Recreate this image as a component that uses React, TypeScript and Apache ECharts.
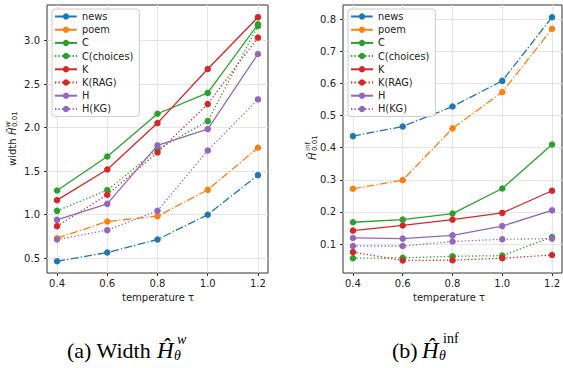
import React, { useEffect, useRef } from "react";
import * as echarts from "echarts";

// temperature values on the x axis
const temperatures = [0.4, 0.6, 0.8, 1.0, 1.2];

// interval width \hat H^w_{0.01}
const widthNews = [0.465, 0.565, 0.715, 1.0, 1.455];
const widthPoem = [0.73, 0.922, 0.983, 1.286, 1.769];
const widthC = [1.278, 1.669, 2.16, 2.4, 3.188];
const widthCChoices = [1.044, 1.282, 1.75, 2.076, 3.17];
const widthK = [1.167, 1.52, 2.053, 2.674, 3.27];
const widthKRag = [0.868, 1.229, 1.715, 2.271, 3.035];
const widthH = [0.941, 1.125, 1.796, 1.984, 2.847];
const widthHKg = [0.715, 0.822, 1.044, 1.738, 2.325];

// \hat H^inf_{0.01}
const infNews = [0.436, 0.466, 0.528, 0.608, 0.806];
const infPoem = [0.272, 0.299, 0.46, 0.573, 0.77];
const infC = [0.168, 0.176, 0.195, 0.273, 0.41];
const infCChoices = [0.056, 0.057, 0.062, 0.064, 0.122];
const infK = [0.142, 0.158, 0.176, 0.197, 0.266];
const infKRag = [0.075, 0.049, 0.05, 0.056, 0.066];
const infH = [0.119, 0.117, 0.127, 0.156, 0.205];
const infHKg = [0.094, 0.094, 0.108, 0.115, 0.117];

const seriesNames = ["news", "poem", "C", "C(choices)", "K", "K(RAG)", "H", "H(KG)"];
const xTicks = [0.4, 0.6, 0.8, 1.0, 1.2];
const widthTicks = [0.5, 1.0, 1.5, 2.0, 2.5, 3.0];
const infTicks = [0.1, 0.2, 0.3, 0.4, 0.5, 0.6, 0.7, 0.8];

const BLUE = "#1f77b4";
const ORANGE = "#ff7f0e";
const GREEN = "#2ca02c";
const RED = "#d62728";
const PURPLE = "#9467bd";

const DASHDOT = [8, 2.2, 1.3, 2.2];
const DOTTED = [1.3, 2.2];

const styles: { color: string; dash: number[] | "solid" }[] = [
  { color: BLUE, dash: DASHDOT },
  { color: ORANGE, dash: DASHDOT },
  { color: GREEN, dash: "solid" },
  { color: GREEN, dash: DOTTED },
  { color: RED, dash: "solid" },
  { color: RED, dash: DOTTED },
  { color: PURPLE, dash: "solid" },
  { color: PURPLE, dash: DOTTED },
];

const widthData = [widthNews, widthPoem, widthC, widthCChoices, widthK, widthKRag, widthH, widthHKg];
const infData = [infNews, infPoem, infC, infCChoices, infK, infKRag, infH, infHKg];

const SANS = "DejaVu Sans";
const SERIF = "Liberation Serif";
const INK = "#222";

function makeSeries(values: number[][], gridIdx: number) {
  return values.map((vals, i) => ({
    name: seriesNames[i],
    type: "line",
    xAxisIndex: gridIdx,
    yAxisIndex: gridIdx,
    data: temperatures.map((t, j) => [t, vals[j]]),
    symbol: "circle",
    symbolSize: 6.5,
    showSymbol: true,
    itemStyle: { color: styles[i].color },
    lineStyle: { color: styles[i].color, width: 1.3, type: styles[i].dash, cap: "butt" },
    emphasis: { disabled: true },
    z: 2 + i,
  }));
}

function xAxisCfg(gridIndex: number) {
  return {
    type: "value",
    gridIndex,
    min: 0.36,
    max: 1.24,
    axisLine: { show: false },
    axisTick: { show: true, length: 3, lineStyle: { color: "#333", width: 1 }, customValues: xTicks },
    axisLabel: {
      customValues: xTicks,
      margin: 5,
      color: INK,
      fontFamily: SANS,
      fontSize: 10,
      formatter: (v: number) => v.toFixed(1),
    },
    splitLine: { show: true, lineStyle: { color: "#e6e6e6", width: 1 } },
  };
}

function yAxisCfg(gridIndex: number, min: number, max: number, ticks: number[]) {
  return {
    type: "value",
    gridIndex,
    min,
    max,
    axisLine: { show: false },
    axisTick: { show: true, length: 3, lineStyle: { color: "#333", width: 1 }, customValues: ticks },
    axisLabel: {
      customValues: ticks,
      margin: 7,
      color: INK,
      fontFamily: SANS,
      fontSize: 10,
      formatter: (v: number) => v.toFixed(1),
    },
    splitLine: { show: true, lineStyle: { color: "#e6e6e6", width: 1 } },
  };
}

function legendCfg(left: number) {
  return {
    data: seriesNames,
    orient: "vertical",
    left,
    top: 9,
    itemWidth: 22,
    itemHeight: 8,
    itemGap: 2.2,
    padding: [2, 6, 2, 2],
    backgroundColor: "rgba(255,255,255,0.85)",
    borderColor: "#cccccc",
    borderWidth: 1,
    borderRadius: 3,
    selectedMode: false,
    textStyle: { fontFamily: SANS, fontSize: 9.8, color: INK, lineHeight: 11 },
  };
}

function txt(x: number, y: number, text: string, size: number, family: string, extra: any = {}) {
  return {
    type: "text",
    x,
    y,
    silent: true,
    style: {
      text,
      fontSize: size,
      fontFamily: family,
      fill: INK,
      align: "left",
      verticalAlign: "middle",
      ...extra,
    },
  };
}

export default function App() {
  const ref = useRef<HTMLDivElement>(null);

  useEffect(() => {
    document.body.style.margin = "0";
    if (!ref.current) return;
    const chart = echarts.init(ref.current, undefined, { renderer: "svg" });

    const graphic: any[] = [
      // y label, width plot (reads bottom to top)
      {
        type: "group",
        x: 12,
        y: 138,
        rotation: Math.PI / 2,
        children: [
          txt(-28, 0, "width ", 10, SANS),
          txt(3, 0, "Ĥ", 10, SANS, { fontStyle: "italic" }),
          txt(11, -4, "w", 7, SANS, { fontStyle: "italic" }),
          txt(11, 3, "0.01", 7, SANS),
        ],
      },
      // y label, inf plot
      {
        type: "group",
        x: 312,
        y: 144,
        rotation: Math.PI / 2,
        children: [
          txt(-16, 0, "Ĥ", 10, SANS, { fontStyle: "italic" }),
          txt(-7, -4, "inf", 7, SANS),
          txt(-7, 3, "0.01", 7, SANS),
        ],
      },
      // x labels
      txt(158, 297, "temperature τ", 10, SANS, { align: "center" }),
      txt(449, 297, "temperature τ", 10, SANS, { align: "center" }),
      // caption (a)
      txt(67, 350, "(a) Width ", 22, SERIF, { fill: "#000" }),
      txt(157, 350, "Ĥ", 23, SERIF, { fill: "#000", fontStyle: "italic" }),
      txt(177, 339.5, "w", 14, SERIF, { fill: "#000", fontStyle: "italic" }),
      txt(174, 355.5, "θ", 14, SERIF, { fill: "#000", fontStyle: "italic" }),
      // caption (b)
      txt(392, 350, "(b) ", 22, SERIF, { fill: "#000" }),
      txt(422, 350, "Ĥ", 23, SERIF, { fill: "#000", fontStyle: "italic" }),
      txt(443, 338.5, "inf", 14, SERIF, { fill: "#000" }),
      txt(439, 355.5, "θ", 14, SERIF, { fill: "#000", fontStyle: "italic" }),
    ];

    chart.setOption({
      animation: false,
      backgroundColor: "#ffffff",
      grid: [
        { left: 47, top: 5, width: 221, height: 268, show: true, borderColor: "#333", borderWidth: 1, backgroundColor: "transparent", containLabel: false },
        { left: 343, top: 5, width: 222, height: 268, show: true, borderColor: "#333", borderWidth: 1, backgroundColor: "transparent", containLabel: false },
      ],
      xAxis: [xAxisCfg(0), xAxisCfg(1)],
      yAxis: [yAxisCfg(0, 0.33, 3.41, widthTicks), yAxisCfg(1, 0.01, 0.844, infTicks)],
      legend: [legendCfg(52), legendCfg(348)],
      series: [...makeSeries(widthData, 0), ...makeSeries(infData, 1)],
      graphic,
    });

    return () => chart.dispose();
  }, []);

  return <div ref={ref} style={{ width: 563, height: 368 }} />;
}
